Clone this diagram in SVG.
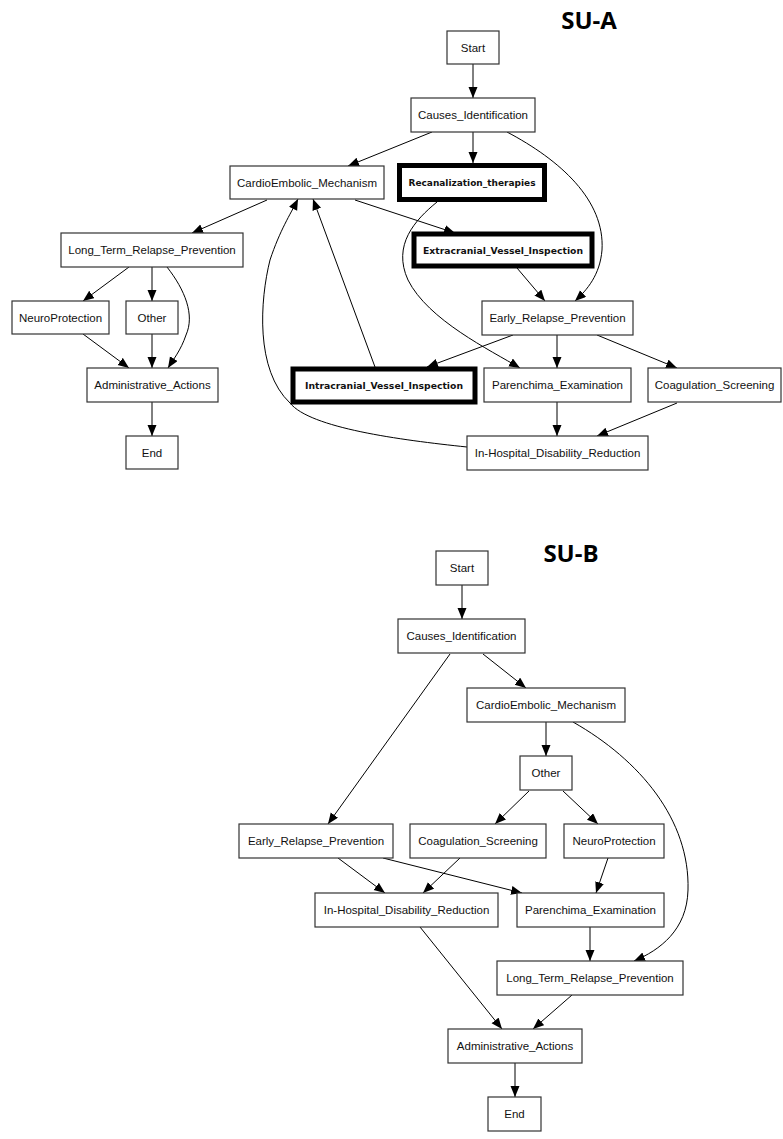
<svg xmlns="http://www.w3.org/2000/svg" width="783" height="1139" viewBox="0 0 783 1139">
<style>
.n rect{fill:#fff;stroke:#333;stroke-width:1.2}
.b rect{fill:#fff;stroke:#000;stroke-width:5}
text{font-family:"Liberation Sans",Arial,sans-serif;font-size:11.5px;fill:#111;text-anchor:middle}
.b text{font-family:"DejaVu Sans",Verdana,sans-serif;font-weight:bold;font-size:9px}
.t{font-family:"Open Sans","Liberation Sans",sans-serif;font-weight:bold;font-size:24px;fill:#000}
.e path{fill:none;stroke:#000;stroke-width:1;marker-end:url(#ah)}
</style>
<defs>
<marker id="ah" markerUnits="userSpaceOnUse" markerWidth="12" markerHeight="10" refX="11" refY="4.5" orient="auto">
<path d="M0,0 L11,4.5 L0,9 Z" fill="#000"/>
</marker>
</defs>
<rect width="783" height="1139" fill="#fff"/>
<text class="t" x="589" y="29">SU-A</text>
<text class="t" x="571" y="562">SU-B</text>

<g id="edges-a" class="e">
<path d="M473,64 L473,98"/>
<path d="M432,132 L348,166"/>
<path d="M473,132 L473,163"/>
<path d="M507,132 C560,160 605,200 602,250 C600,275 587,290 575,301"/>
<path d="M267,200 L192,233"/>
<path d="M355,200 L455,233"/>
<path d="M437,202 C415,220 392,245 408,280 C428,320 490,350 520,368"/>
<path d="M517,268 L545,301"/>
<path d="M513,335 L427,367"/>
<path d="M557,335 L557,368"/>
<path d="M597,335 L677,368"/>
<path d="M375,367 L313,199"/>
<path d="M467,447 C400,440 310,428 290,403 C255,370 260,300 270,260 C280,230 290,215 298,199"/>
<path d="M557,402 L557,436"/>
<path d="M677,403 L597,436"/>
<path d="M129,267 L83,301"/>
<path d="M152,267 L152,301"/>
<path d="M167,267 C185,290 195,315 186,335 C181,350 173,360 168,368"/>
<path d="M83,334 L129,368"/>
<path d="M152,334 L152,368"/>
<path d="M152,402 L152,436"/>
</g>

<g id="edges-b" class="e">
<path d="M462,585 L462,619"/>
<path d="M483,654 L526,688"/>
<path d="M450,654 L328,824"/>
<path d="M546,722 L546,756"/>
<path d="M573,722 C640,760 690,820 688,890 C687,930 660,950 634,961"/>
<path d="M529,791 L495,824"/>
<path d="M563,791 L598,824"/>
<path d="M338,858 L385,893"/>
<path d="M383,858 L522,893"/>
<path d="M460,858 L423,893"/>
<path d="M608,858 L596,893"/>
<path d="M420,927 L502,1029"/>
<path d="M590,927 L590,961"/>
<path d="M572,995 L533,1029"/>
<path d="M515,1063 L515,1097"/>
</g>

<g id="a-start" class="n"><rect x="447" y="31" width="52" height="33"/><text x="473" y="51.5">Start</text></g>
<g id="a-causes" class="n"><rect x="411" y="98" width="124" height="34"/><text x="473" y="119">Causes_Identification</text></g>
<g id="a-cardio" class="n"><rect x="230" y="166" width="154" height="33"/><text x="307" y="186.5">CardioEmbolic_Mechanism</text></g>
<g id="a-recan" class="b"><rect x="399.5" y="165.5" width="145" height="34"/><text x="472" y="186" textLength="127" lengthAdjust="spacingAndGlyphs">Recanalization_therapies</text></g>
<g id="a-extra" class="b"><rect x="414" y="234" width="178" height="32"/><text x="503" y="253.5" textLength="160" lengthAdjust="spacingAndGlyphs">Extracranial_Vessel_Inspection</text></g>
<g id="a-early" class="n"><rect x="482" y="301" width="151" height="34"/><text x="557.5" y="322">Early_Relapse_Prevention</text></g>
<g id="a-intra" class="b"><rect x="293" y="369" width="182" height="33"/><text x="384" y="389" textLength="158" lengthAdjust="spacingAndGlyphs">Intracranial_Vessel_Inspection</text></g>
<g id="a-paren" class="n"><rect x="484" y="368" width="147" height="34"/><text x="557.5" y="389">Parenchima_Examination</text></g>
<g id="a-coag" class="n"><rect x="648" y="368" width="133" height="34"/><text x="714.5" y="389">Coagulation_Screening</text></g>
<g id="a-inhosp" class="n"><rect x="467" y="436" width="181" height="34"/><text x="557.5" y="457">In-Hospital_Disability_Reduction</text></g>
<g id="a-longterm" class="n"><rect x="61" y="233" width="182" height="34"/><text x="152" y="254">Long_Term_Relapse_Prevention</text></g>
<g id="a-neuro" class="n"><rect x="12" y="301" width="97" height="33"/><text x="60.5" y="321.5">NeuroProtection</text></g>
<g id="a-other" class="n"><rect x="126" y="301" width="52" height="33"/><text x="152" y="321.5">Other</text></g>
<g id="a-admin" class="n"><rect x="87" y="368" width="131" height="34"/><text x="152.5" y="389">Administrative_Actions</text></g>
<g id="a-end" class="n"><rect x="126" y="436" width="52" height="33"/><text x="152" y="456.5">End</text></g>

<g id="b-start" class="n"><rect x="436" y="551" width="52" height="34"/><text x="462" y="572">Start</text></g>
<g id="b-causes" class="n"><rect x="398" y="619" width="127" height="34"/><text x="461.5" y="640">Causes_Identification</text></g>
<g id="b-cardio" class="n"><rect x="467" y="688" width="158" height="34"/><text x="546" y="709">CardioEmbolic_Mechanism</text></g>
<g id="b-other" class="n"><rect x="520" y="756" width="52" height="34"/><text x="546" y="777">Other</text></g>
<g id="b-early" class="n"><rect x="239" y="824" width="154" height="34"/><text x="316" y="845">Early_Relapse_Prevention</text></g>
<g id="b-coag" class="n"><rect x="410" y="824" width="136" height="34"/><text x="478" y="845">Coagulation_Screening</text></g>
<g id="b-neuro" class="n"><rect x="564" y="824" width="100" height="34"/><text x="614" y="845">NeuroProtection</text></g>
<g id="b-inhosp" class="n"><rect x="315" y="893" width="183" height="34"/><text x="406.5" y="914">In-Hospital_Disability_Reduction</text></g>
<g id="b-paren" class="n"><rect x="517" y="893" width="147" height="34"/><text x="590.5" y="914">Parenchima_Examination</text></g>
<g id="b-longterm" class="n"><rect x="497" y="961" width="186" height="34"/><text x="590" y="982">Long_Term_Relapse_Prevention</text></g>
<g id="b-admin" class="n"><rect x="448" y="1029" width="134" height="34"/><text x="515" y="1050">Administrative_Actions</text></g>
<g id="b-end" class="n"><rect x="488" y="1097" width="53" height="34"/><text x="514.5" y="1118">End</text></g>
</svg>
